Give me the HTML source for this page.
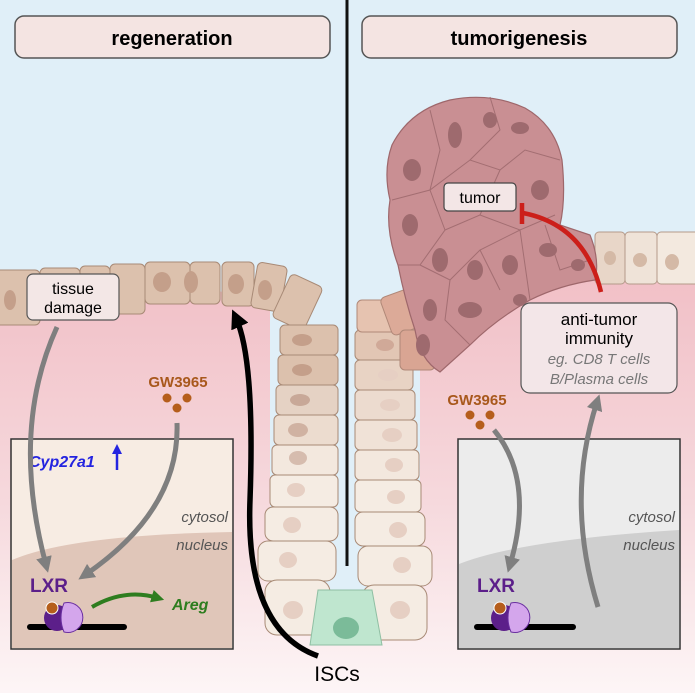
<!DOCTYPE html>
<html><head><meta charset="utf-8"><style>
html,body{margin:0;padding:0;background:#fff}
svg{display:block}
text{font-family:"Liberation Sans",sans-serif}
</style></head><body>
<svg width="695" height="693" viewBox="0 0 695 693" xmlns="http://www.w3.org/2000/svg">
<defs>
<linearGradient id="pk" gradientUnits="userSpaceOnUse" x1="0" y1="270" x2="0" y2="693">
<stop offset="0" stop-color="#f1bfc6"/><stop offset="0.55" stop-color="#f6d9dd"/><stop offset="1" stop-color="#fdf5f6"/>
</linearGradient>
<marker id="ag" viewBox="0 0 10 10" refX="5" refY="5" markerWidth="3.2" markerHeight="3.2" orient="auto"><path d="M0,0L10,5L0,10z" fill="#7f7f7f"/></marker>
<marker id="ab" viewBox="0 0 10 10" refX="5" refY="5" markerWidth="3.4" markerHeight="3.4" orient="auto"><path d="M0,0L10,5L0,10z" fill="#000"/></marker>
<marker id="agr" viewBox="0 0 10 10" refX="5" refY="5" markerWidth="3.2" markerHeight="3.2" orient="auto"><path d="M0,0L10,5L0,10z" fill="#2e7d1f"/></marker>
</defs>
<rect width="695" height="693" fill="#e0eff8"/>
<!-- pink lamina -->
<path d="M0,288 Q150,275 270,300 L270,693 L0,693z" fill="url(#pk)"/>
<path d="M420,300 Q500,285 695,272 L695,693 L420,693z" fill="url(#pk)"/>
<rect x="0" y="600" width="695" height="93" fill="url(#pk)"/>
<!-- left surface cells -->
<g fill="#dcc1ad" stroke="#a88a76" stroke-width="1">
<rect x="-5" y="270" width="45" height="55" rx="5"/>
<rect x="40" y="268" width="40" height="52" rx="5"/>
<rect x="80" y="266" width="30" height="52" rx="5"/>
<rect x="110" y="264" width="35" height="50" rx="5"/>
<rect x="145" y="262" width="45" height="42" rx="5"/>
<rect x="190" y="262" width="30" height="42" rx="5"/>
<rect x="222" y="262" width="32" height="44" rx="5"/>
<rect x="254" y="264" width="30" height="46" rx="5" transform="rotate(10 269 287)"/>
<rect x="280" y="278" width="35" height="48" rx="5" transform="rotate(25 297 302)"/>
</g>
<g fill="#c49f8a"><ellipse cx="162" cy="282" rx="9" ry="10"/><ellipse cx="191" cy="282" rx="7" ry="11"/><ellipse cx="236" cy="284" rx="8" ry="10"/><ellipse cx="265" cy="290" rx="7" ry="10"/><ellipse cx="10" cy="300" rx="6" ry="10"/></g>
<!-- crypt walls -->
<g stroke="#a88a76" stroke-width="1">
<rect x="280" y="325" width="58" height="30" rx="5" fill="#dcc1ad"/>
<rect x="278" y="355" width="60" height="30" rx="5" fill="#dcc1ad"/>
<rect x="276" y="385" width="62" height="30" rx="5" fill="#e5d2c4"/>
<rect x="274" y="415" width="64" height="30" rx="5" fill="#ecdccf"/>
<rect x="272" y="445" width="66" height="30" rx="5" fill="#f3e8de"/>
<rect x="270" y="475" width="68" height="32" rx="5" fill="#f5ece3"/>
<rect x="265" y="507" width="73" height="34" rx="8" fill="#f5ece3"/>
<rect x="258" y="541" width="78" height="40" rx="10" fill="#f5ece3"/>
<rect x="265" y="580" width="65" height="55" rx="12" fill="#f5ece3"/>
<rect x="355" y="330" width="52" height="30" rx="5" fill="#e2c6b4"/>
<rect x="355" y="360" width="58" height="30" rx="5" fill="#e8d3c4"/>
<rect x="355" y="390" width="60" height="30" rx="5" fill="#ecdbcf"/>
<rect x="355" y="420" width="62" height="30" rx="5" fill="#f0e2d7"/>
<rect x="355" y="450" width="64" height="30" rx="5" fill="#f3e8de"/>
<rect x="355" y="480" width="66" height="32" rx="5" fill="#f5ece3"/>
<rect x="355" y="512" width="70" height="34" rx="8" fill="#f5ece3"/>
<rect x="358" y="546" width="74" height="40" rx="10" fill="#f5ece3"/>
<rect x="362" y="585" width="65" height="55" rx="12" fill="#f5ece3"/>
<path d="M318,590 L372,590 L382,645 L310,645z" fill="#bfe6cf" stroke="#8fbfa3"/>
</g>
<ellipse cx="346" cy="628" rx="13" ry="11" fill="#7bbb99"/>
<g fill="#e6cfc3"><ellipse cx="302" cy="340" rx="10" ry="6" fill="#c49f8a"/><ellipse cx="302" cy="370" rx="10" ry="6" fill="#c49f8a"/><ellipse cx="300" cy="400" rx="10" ry="6" fill="#c8a898"/><ellipse cx="298" cy="430" rx="10" ry="7" fill="#d0b2a2"/><ellipse cx="298" cy="458" rx="9" ry="7" fill="#d6bcae"/><ellipse cx="296" cy="490" rx="9" ry="7"/><ellipse cx="292" cy="525" rx="9" ry="8"/><ellipse cx="288" cy="560" rx="9" ry="8"/><ellipse cx="293" cy="610" rx="10" ry="9"/>
<ellipse cx="385" cy="345" rx="9" ry="6" fill="#d0a998"/><ellipse cx="388" cy="375" rx="10" ry="6"/><ellipse cx="390" cy="405" rx="10" ry="6"/><ellipse cx="392" cy="435" rx="10" ry="7"/><ellipse cx="394" cy="465" rx="9" ry="7"/><ellipse cx="396" cy="497" rx="9" ry="7"/><ellipse cx="398" cy="530" rx="9" ry="8"/><ellipse cx="402" cy="565" rx="9" ry="8"/><ellipse cx="400" cy="610" rx="10" ry="9"/></g>
<!-- right surface cells -->
<g stroke="#b49a8a" stroke-width="1">
<rect x="595" y="232" width="30" height="52" rx="4" fill="#e8d6c8"/>
<rect x="625" y="232" width="32" height="52" rx="4" fill="#efe3d8"/>
<rect x="657" y="232" width="45" height="52" rx="4" fill="#f3e9df"/>
</g>
<g fill="#d4b9a6"><ellipse cx="610" cy="258" rx="6" ry="7"/><ellipse cx="640" cy="260" rx="7" ry="7"/><ellipse cx="672" cy="262" rx="7" ry="8"/></g>
<!-- transition cells -->
<g stroke="#b08878" stroke-width="1">
<rect x="357" y="300" width="45" height="32" rx="5" fill="#e6c3b0"/>
<rect x="385" y="290" width="45" height="40" rx="5" fill="#dcaa98" transform="rotate(-20 407 310)"/>
<rect x="400" y="330" width="35" height="40" rx="5" fill="#d9a593"/>
</g>
<!-- tumor -->
<path d="M392,145 Q410,110 450,100 Q490,92 525,108 Q555,125 562,160 Q566,200 560,225 L590,235 Q600,260 595,280 Q560,285 530,300 Q495,320 470,345 L440,372 Q420,360 415,330 Q405,300 398,265 Q385,230 390,200 Q383,170 392,145z" fill="#c98f93" stroke="#9e676b" stroke-width="1.2"/>
<g stroke="#a36e72" stroke-width="1" fill="none">
<path d="M392,200 L430,190 L470,160 L500,170 L525,150 L560,160"/>
<path d="M430,110 L440,150 L430,190 L445,230 L420,265 L398,265"/>
<path d="M490,97 L500,130 L470,160"/>
<path d="M445,230 L480,215 L500,170 M480,215 L520,230 L555,215"/>
<path d="M420,265 L450,280 L480,250 L520,230 L530,300"/>
<path d="M450,280 L445,320 L470,345 M480,250 L500,290"/>
<path d="M545,225 L560,270 L590,260"/>
</g>
<g fill="#9e6a6e">
<ellipse cx="412" cy="170" rx="9" ry="11"/><ellipse cx="455" cy="135" rx="7" ry="13"/><ellipse cx="490" cy="120" rx="7" ry="8"/><ellipse cx="520" cy="128" rx="9" ry="6"/><ellipse cx="540" cy="190" rx="9" ry="10"/><ellipse cx="410" cy="225" rx="8" ry="11"/><ellipse cx="465" cy="195" rx="6" ry="12"/><ellipse cx="505" cy="200" rx="6" ry="7"/><ellipse cx="440" cy="260" rx="8" ry="12"/><ellipse cx="475" cy="270" rx="8" ry="10"/><ellipse cx="510" cy="265" rx="8" ry="10"/><ellipse cx="548" cy="250" rx="9" ry="7"/><ellipse cx="430" cy="310" rx="7" ry="11"/><ellipse cx="470" cy="310" rx="12" ry="8"/><ellipse cx="520" cy="300" rx="7" ry="6"/><ellipse cx="578" cy="265" rx="7" ry="6"/><ellipse cx="423" cy="345" rx="7" ry="11"/>
</g>
<!-- divider -->
<line x1="347" y1="0" x2="347" y2="566" stroke="#111" stroke-width="3"/>
<!-- title boxes -->
<rect x="15" y="16" width="315" height="42" rx="9" fill="#f4e4e2" stroke="#555" stroke-width="1.5"/>
<text x="172" y="45" text-anchor="middle" font-size="20" font-weight="bold">regeneration</text>
<rect x="362" y="16" width="315" height="42" rx="9" fill="#f4e4e2" stroke="#555" stroke-width="1.5"/>
<text x="519" y="45" text-anchor="middle" font-size="20" font-weight="bold">tumorigenesis</text>
<!-- left box -->
<rect x="11" y="439" width="222" height="210" fill="#f7ece3"/>
<path d="M12,560 Q70,535 232,532 L232,648 L12,648z" fill="#e0c6b9"/>
<rect x="11" y="439" width="222" height="210" fill="none" stroke="#333" stroke-width="1.5"/>
<text x="228" y="522" text-anchor="end" font-size="15" font-style="italic" fill="#555">cytosol</text>
<text x="228" y="550" text-anchor="end" font-size="15" font-style="italic" fill="#555">nucleus</text>
<text x="29" y="467" font-size="16" font-weight="bold" font-style="italic" fill="#2424e0">Cyp27a1</text>
<path d="M117,470 L117,450" stroke="#2424e0" stroke-width="2.5"/><path d="M112,454 L117,444 L122,454z" fill="#2424e0"/>
<!-- right box -->
<rect x="458" y="439" width="222" height="210" fill="#ececec"/>
<path d="M459,564 Q520,540 679,530 L679,648 L459,648z" fill="#cfcfcf"/>
<rect x="458" y="439" width="222" height="210" fill="none" stroke="#333" stroke-width="1.5"/>
<text x="675" y="522" text-anchor="end" font-size="15" font-style="italic" fill="#555">cytosol</text>
<text x="675" y="550" text-anchor="end" font-size="15" font-style="italic" fill="#555">nucleus</text>
<!-- LXR left -->
<text x="30" y="592" font-size="19" font-weight="bold" fill="#5c1f8a">LXR</text>
<line x1="30" y1="627" x2="124" y2="627" stroke="#000" stroke-width="6" stroke-linecap="round"/>
<circle cx="57" cy="618" r="13" fill="#5c1f8a"/>
<circle cx="52" cy="608" r="6" fill="#b55e1c" stroke="#fff" stroke-width="1"/>
<path d="M64,603 A15,15 0 1,1 64,632 Q58,618 64,603z" fill="#d4a6ec" stroke="#6a2fa0" stroke-width="1"/>
<path d="M92,607 Q125,588 158,598" stroke="#2e7d1f" stroke-width="4" fill="none" marker-end="url(#agr)"/>
<text x="172" y="610" font-size="16" font-weight="bold" font-style="italic" fill="#2e7d1f">Areg</text>
<!-- LXR right -->
<text x="477" y="592" font-size="19" font-weight="bold" fill="#5c1f8a">LXR</text>
<line x1="477" y1="627" x2="573" y2="627" stroke="#000" stroke-width="6" stroke-linecap="round"/>
<circle cx="504" cy="618" r="13" fill="#5c1f8a"/>
<circle cx="500" cy="608" r="6" fill="#b55e1c" stroke="#fff" stroke-width="1"/>
<path d="M511,603 A15,15 0 1,1 511,632 Q505,618 511,603z" fill="#d4a6ec" stroke="#6a2fa0" stroke-width="1"/>
<!-- GW -->
<text x="178" y="387" text-anchor="middle" font-size="15" font-weight="bold" fill="#a8581c">GW3965</text>
<circle cx="167" cy="398" r="4.5" fill="#b55e1c"/><circle cx="187" cy="398" r="4.5" fill="#b55e1c"/><circle cx="177" cy="408" r="4.5" fill="#b55e1c"/>
<text x="477" y="405" text-anchor="middle" font-size="15" font-weight="bold" fill="#a8581c">GW3965</text>
<circle cx="470" cy="415" r="4.5" fill="#b55e1c"/><circle cx="490" cy="415" r="4.5" fill="#b55e1c"/><circle cx="480" cy="425" r="4.5" fill="#b55e1c"/>
<!-- tissue damage box -->
<rect x="27" y="274" width="92" height="46" rx="6" fill="#f3e7e6" stroke="#555" stroke-width="1.2"/>
<text x="73" y="294" text-anchor="middle" font-size="16">tissue</text>
<text x="73" y="313" text-anchor="middle" font-size="16">damage</text>
<!-- gray arrows -->
<path d="M57,327 Q10,430 46,565" stroke="#7f7f7f" stroke-width="5" fill="none" marker-end="url(#ag)"/>
<path d="M177,423 Q180,510 85,575" stroke="#7f7f7f" stroke-width="5" fill="none" marker-end="url(#ag)"/>
<path d="M494,430 Q535,480 510,565" stroke="#7f7f7f" stroke-width="5" fill="none" marker-end="url(#ag)"/>
<path d="M598,607 Q565,500 597,402" stroke="#7f7f7f" stroke-width="5" fill="none" marker-end="url(#ag)"/>
<!-- ISC arrow -->
<path d="M318,656 Q245,630 250,500 Q255,360 236,318" stroke="#000" stroke-width="5.5" fill="none" marker-end="url(#ab)"/>
<text x="337" y="681" text-anchor="middle" font-size="21">ISCs</text>
<!-- anti tumor box -->
<rect x="521" y="303" width="156" height="90" rx="9" fill="#f3e6e8" stroke="#555" stroke-width="1.2"/>
<text x="599" y="325" text-anchor="middle" font-size="17">anti-tumor</text>
<text x="599" y="344" text-anchor="middle" font-size="17">immunity</text>
<text x="599" y="364" text-anchor="middle" font-size="15" font-style="italic" fill="#777">eg. CD8 T cells</text>
<text x="599" y="384" text-anchor="middle" font-size="15" font-style="italic" fill="#777">B/Plasma cells</text>
<!-- red inhibition -->
<path d="M601,292 Q585,225 523,213" stroke="#cc1f1a" stroke-width="4.5" fill="none"/>
<line x1="522" y1="203" x2="522" y2="224" stroke="#cc1f1a" stroke-width="4.5"/>
<rect x="444" y="183" width="72" height="28" rx="4" fill="#f3e6e6" stroke="#444" stroke-width="1.2"/>
<text x="480" y="203" text-anchor="middle" font-size="16">tumor</text>
</svg>
</body></html>
